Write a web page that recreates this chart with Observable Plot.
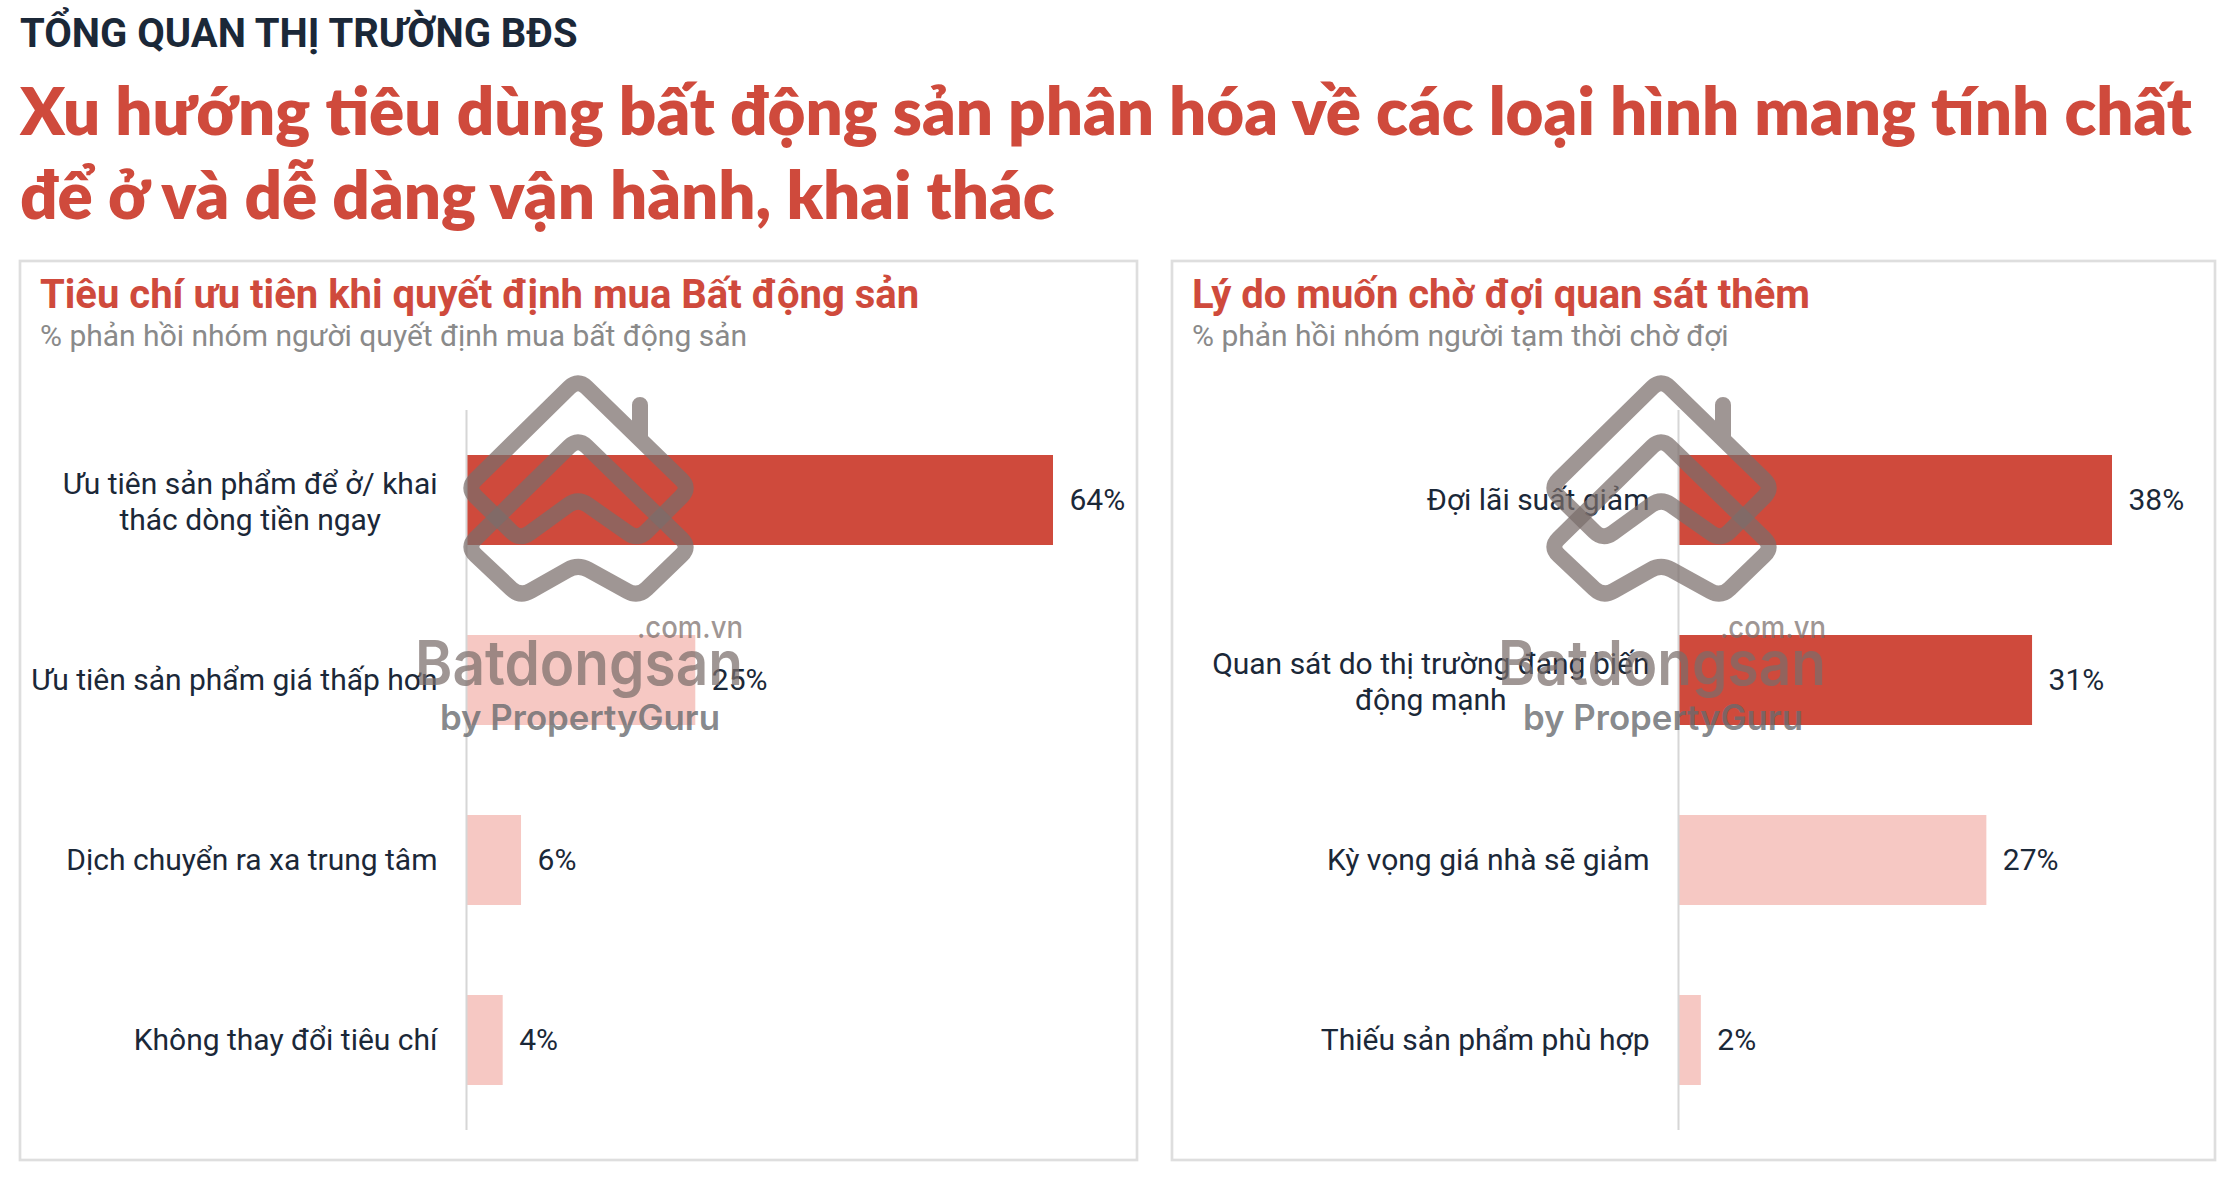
<!DOCTYPE html>
<html><head><meta charset="utf-8">
<script src="https://cdn.jsdelivr.net/npm/d3@7"></script>
<script src="https://cdn.jsdelivr.net/npm/@observablehq/plot@0.6"></script>
<style>
html,body{margin:0;padding:0;background:#fff;}
#page{position:relative;width:2234px;height:1180px;overflow:hidden;font-family:Roboto, sans-serif;}
.abs{position:absolute;left:0;top:0;}
</style></head>
<body><div id="page"></div>
<script>
// ---- data ----
const headerText = "TỔNG QUAN THỊ TRƯỜNG BĐS";
const titleLines = [
  "Xu hướng tiêu dùng bất động sản phân hóa về các loại hình mang tính chất",
  "để ở và dễ dàng vận hành, khai thác"
];
const leftTitle = "Tiêu chí ưu tiên khi quyết định mua Bất động sản";
const leftSubtitle = "% phản hồi nhóm người quyết định mua bất động sản";
const leftCategories = [
  "Ưu tiên sản phẩm để ở/ khai\nthác dòng tiền ngay",
  "Ưu tiên sản phẩm giá thấp hơn",
  "Dịch chuyển ra xa trung tâm",
  "Không thay đổi tiêu chí"
];
const leftValues = [64, 25, 6, 4];
const leftHighlight = [true, false, false, false];

const rightTitle = "Lý do muốn chờ đợi quan sát thêm";
const rightSubtitle = "% phản hồi nhóm người tạm thời chờ đợi";
const rightCategories = [
  "Đợi lãi suất giảm",
  "Quan sát do thị trường đang biến\nđộng mạnh",
  "Kỳ vọng giá nhà sẽ giảm",
  "Thiếu sản phẩm phù hợp"
];
const rightValues = [38, 31, 27, 2];
const rightHighlight = [true, true, false, false];

const RED = "#cf4a3c", PINK = "#f6c8c3", INK = "#1b2838";

const page = document.getElementById("page");
const ctx = document.createElement("canvas").getContext("2d");
function measure(text, font) { ctx.font = font; return ctx.measureText(text).width; }

// ---- decor (titles, panels) ----
const decor = d3.create("svg").attr("class", "abs").attr("width", 2234).attr("height", 1180);
decor.append("text").attr("x", 20).attr("y", 47).attr("font-family", "Roboto").attr("font-weight", 700)
  .attr("font-size", 40).attr("fill", INK).text(headerText);
const titleFontFamily = "Lato";
const tw = measure(titleLines[0], `800 100px ${titleFontFamily}`);
const titleSize = 100 * 2174 / tw;
decor.append("text").attr("font-family", titleFontFamily).attr("font-weight", 800)
  .attr("font-size", titleSize).attr("fill", RED)
  .selectAll("tspan").data(titleLines).join("tspan")
  .attr("x", 20).attr("y", (d, i) => 135 + i * 84).text(d => d);

const panels = [
  {x: 20, w: 1117, title: leftTitle, sub: leftSubtitle},
  {x: 1172, w: 1043, title: rightTitle, sub: rightSubtitle}
];
for (const p of panels) {
  decor.append("rect").attr("x", p.x).attr("y", 261).attr("width", p.w).attr("height", 899)
    .attr("fill", "#fff").attr("stroke", "#dedede").attr("stroke-width", 2.7);
  decor.append("text").attr("x", p.x + 20).attr("y", 308).attr("font-family", "Roboto").attr("font-weight", 700)
    .attr("font-size", 40).attr("fill", RED).text(p.title);
  decor.append("text").attr("x", p.x + 20).attr("y", 346).attr("font-family", "Roboto").attr("font-weight", 400)
    .attr("font-size", 30).attr("fill", "#8a8a8a").text(p.sub);
}
page.appendChild(decor.node());

// ---- charts ----
function barChart({categories, values, highlight, left, top, width, height, marginLeft, marginRight}) {
  const data = categories.map((c, i) => ({category: c, value: values[i], hl: highlight[i] ? "dark" : "light"}));
  const single = data.filter(d => !d.category.includes("\n"));
  const multi = data.filter(d => d.category.includes("\n"));
  const font = "30px Roboto";
  const marks = [
    Plot.barX(data, {x: "value", y: "category", fill: "hl"}),
    Plot.ruleX([0], {stroke: "#d6d6d6", strokeWidth: 2}),
    Plot.text(data, {x: "value", y: "category", text: d => d.value + "%", textAnchor: "start", dx: 16, fill: INK, fontSize: 30}),
    Plot.text(single, {x: 0, y: "category", text: "category", textAnchor: "end", dx: -29, fill: INK, fontSize: 30})
  ];
  for (const d of multi) {
    const w = d3.max(d.category.split("\n"), l => measure(l, font));
    marks.push(Plot.text([d], {x: 0, y: "category", text: "category", textAnchor: "middle",
      dx: -29 - w / 2, lineHeight: 1.19, fill: INK, fontSize: 30}));
  }
  const chart = Plot.plot({
    width, height, marginLeft, marginRight, marginTop: 10, marginBottom: 10,
    x: {domain: [0, d3.max(values)], axis: null},
    y: {domain: categories, axis: null, paddingInner: 0.5, paddingOuter: 0.25},
    color: {domain: ["dark", "light"], range: [RED, PINK]},
    style: {fontFamily: "Roboto", fontSize: "30px", background: "transparent", overflow: "visible", color: INK},
    marks
  });
  chart.style.position = "absolute";
  chart.style.left = left + "px";
  chart.style.top = top + "px";
  page.appendChild(chart);
}
barChart({categories: leftCategories, values: leftValues, highlight: leftHighlight,
  left: 20, top: 400, width: 1117, height: 740, marginLeft: 446, marginRight: 84});
barChart({categories: rightCategories, values: rightValues, highlight: rightHighlight,
  left: 1172, top: 400, width: 1043, height: 740, marginLeft: 506, marginRight: 103});

// ---- watermark (decorative logo) ----
function roundedPath(pts, r) {
  const n = pts.length;
  let d = "";
  for (let i = 0; i < n; i++) {
    const v = pts[i], p0 = pts[(i - 1 + n) % n], p2 = pts[(i + 1) % n];
    const l0 = Math.hypot(p0[0] - v[0], p0[1] - v[1]), l2 = Math.hypot(p2[0] - v[0], p2[1] - v[1]);
    const a = [v[0] + (p0[0] - v[0]) * r / l0, v[1] + (p0[1] - v[1]) * r / l0];
    const b = [v[0] + (p2[0] - v[0]) * r / l2, v[1] + (p2[1] - v[1]) * r / l2];
    d += (i === 0 ? "M" : "L") + a[0] + "," + a[1] + "Q" + v[0] + "," + v[1] + " " + b[0] + "," + b[1];
  }
  return d + "Z";
}
const logoUpper = [[578, 379], [467, 488], [520, 540], [578, 498], [638, 540], [690, 488]];
const logoLower = [[578, 438], [467, 547], [520, 597], [578, 564], [638, 597], [690, 547]];
const wm = d3.create("svg").attr("class", "abs").attr("width", 2234).attr("height", 1180)
  .style("pointer-events", "none");
for (const off of [0, 1083]) {
  const g = wm.append("g").attr("transform", `translate(${off},0)`);
  const logo = g.append("g").attr("fill", "none").attr("stroke", "#7a6d6b").attr("stroke-opacity", 0.72)
    .attr("stroke-width", 16).attr("stroke-linejoin", "round").attr("stroke-linecap", "round");
  logo.append("path").attr("d", roundedPath(logoUpper, 12) + " M640,436 L640,405");
  logo.append("path").attr("d", roundedPath(logoLower, 12));
  g.append("text").attr("x", 415).attr("y", 685).attr("font-family", "Inter").attr("font-weight", 600)
    .attr("font-size", 62).attr("textLength", 328).attr("lengthAdjust", "spacingAndGlyphs")
    .attr("fill", "#7a6d6b").attr("fill-opacity", 0.72).text("Batdongsan");
  g.append("text").attr("x", 637).attr("y", 638).attr("font-family", "Inter").attr("font-weight", 500)
    .attr("font-size", 30).attr("textLength", 106).attr("lengthAdjust", "spacingAndGlyphs")
    .attr("fill", "#7a6d6b").attr("fill-opacity", 0.72).text(".com.vn");
  g.append("text").attr("x", 440).attr("y", 730).attr("font-family", "Inter").attr("font-weight", 600)
    .attr("font-size", 35).attr("textLength", 280).attr("lengthAdjust", "spacingAndGlyphs")
    .attr("fill", "#676a6e").attr("fill-opacity", 0.8).text("by PropertyGuru");
}
page.appendChild(wm.node());
</script>
</body></html>
